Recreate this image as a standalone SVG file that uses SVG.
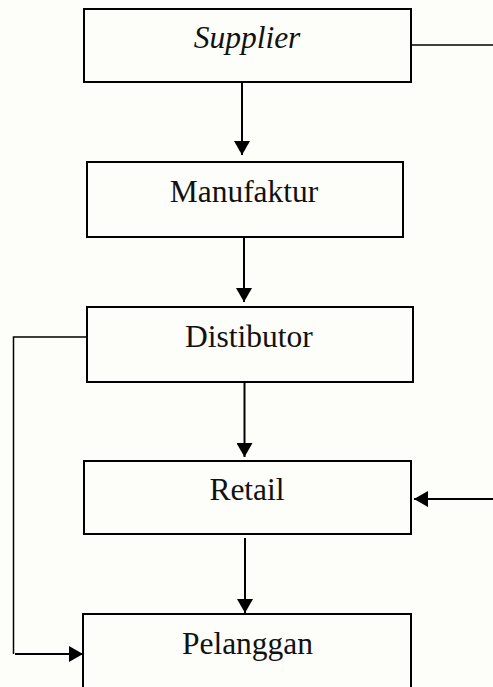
<svg xmlns="http://www.w3.org/2000/svg" width="493" height="687" viewBox="0 0 493 687">
  <defs>
    <marker id="arrow" markerUnits="userSpaceOnUse" markerWidth="16" markerHeight="16" viewBox="0 0 14 16" refX="14" refY="8" orient="auto">
      <path d="M0,0 L14,8 L0,16 Z" fill="#000"/>
    </marker>
    <style>
      .box { fill: none; stroke: #000; stroke-width: 2; }
      .lbl { font-family: "Liberation Serif", "Times New Roman", serif; font-size: 31.5px; fill: #111; text-anchor: middle; }
      .it { font-style: italic; }
      .con { fill: none; stroke: #000; stroke-width: 2; }
      .thin { fill: none; stroke: #000; stroke-width: 1.5; }
    </style>
  </defs>
  <rect x="0" y="0" width="493" height="687" fill="#fdfdf9"/>

  <g id="supplier">
    <rect class="box" x="84" y="9" width="327" height="73"/>
    <text class="lbl it" x="247" y="48">Supplier</text>
  </g>
  <g id="manufaktur">
    <rect class="box" x="87" y="162" width="316" height="75"/>
    <text class="lbl" x="244" y="202">Manufaktur</text>
  </g>
  <g id="distributor">
    <rect class="box" x="87" y="307" width="326" height="75"/>
    <text class="lbl" x="249" y="347">Distibutor</text>
  </g>
  <g id="retail">
    <rect class="box" x="84" y="461" width="327" height="73"/>
    <text class="lbl" x="247" y="500">Retail</text>
  </g>
  <g id="pelanggan">
    <rect class="box" x="83" y="614" width="328" height="100"/>
    <text class="lbl" x="247.5" y="654">Pelanggan</text>
  </g>

  <g id="connectors">
    <line class="con" x1="242" y1="82" x2="242" y2="155" marker-end="url(#arrow)"/>
    <line class="con" x1="244" y1="237" x2="244" y2="302" marker-end="url(#arrow)"/>
    <line class="con" x1="244.5" y1="382" x2="244.5" y2="457" marker-end="url(#arrow)"/>
    <line class="con" x1="245" y1="538" x2="245" y2="613" marker-end="url(#arrow)"/>
    <line class="thin" x1="411" y1="45" x2="493" y2="45"/>
    <line class="con" x1="493" y1="499" x2="414" y2="499" marker-end="url(#arrow)"/>
    <polyline class="thin" points="87,337 13.5,337 13.5,654"/>
    <line class="con" x1="15" y1="654" x2="83" y2="654" marker-end="url(#arrow)"/>
  </g>
</svg>
